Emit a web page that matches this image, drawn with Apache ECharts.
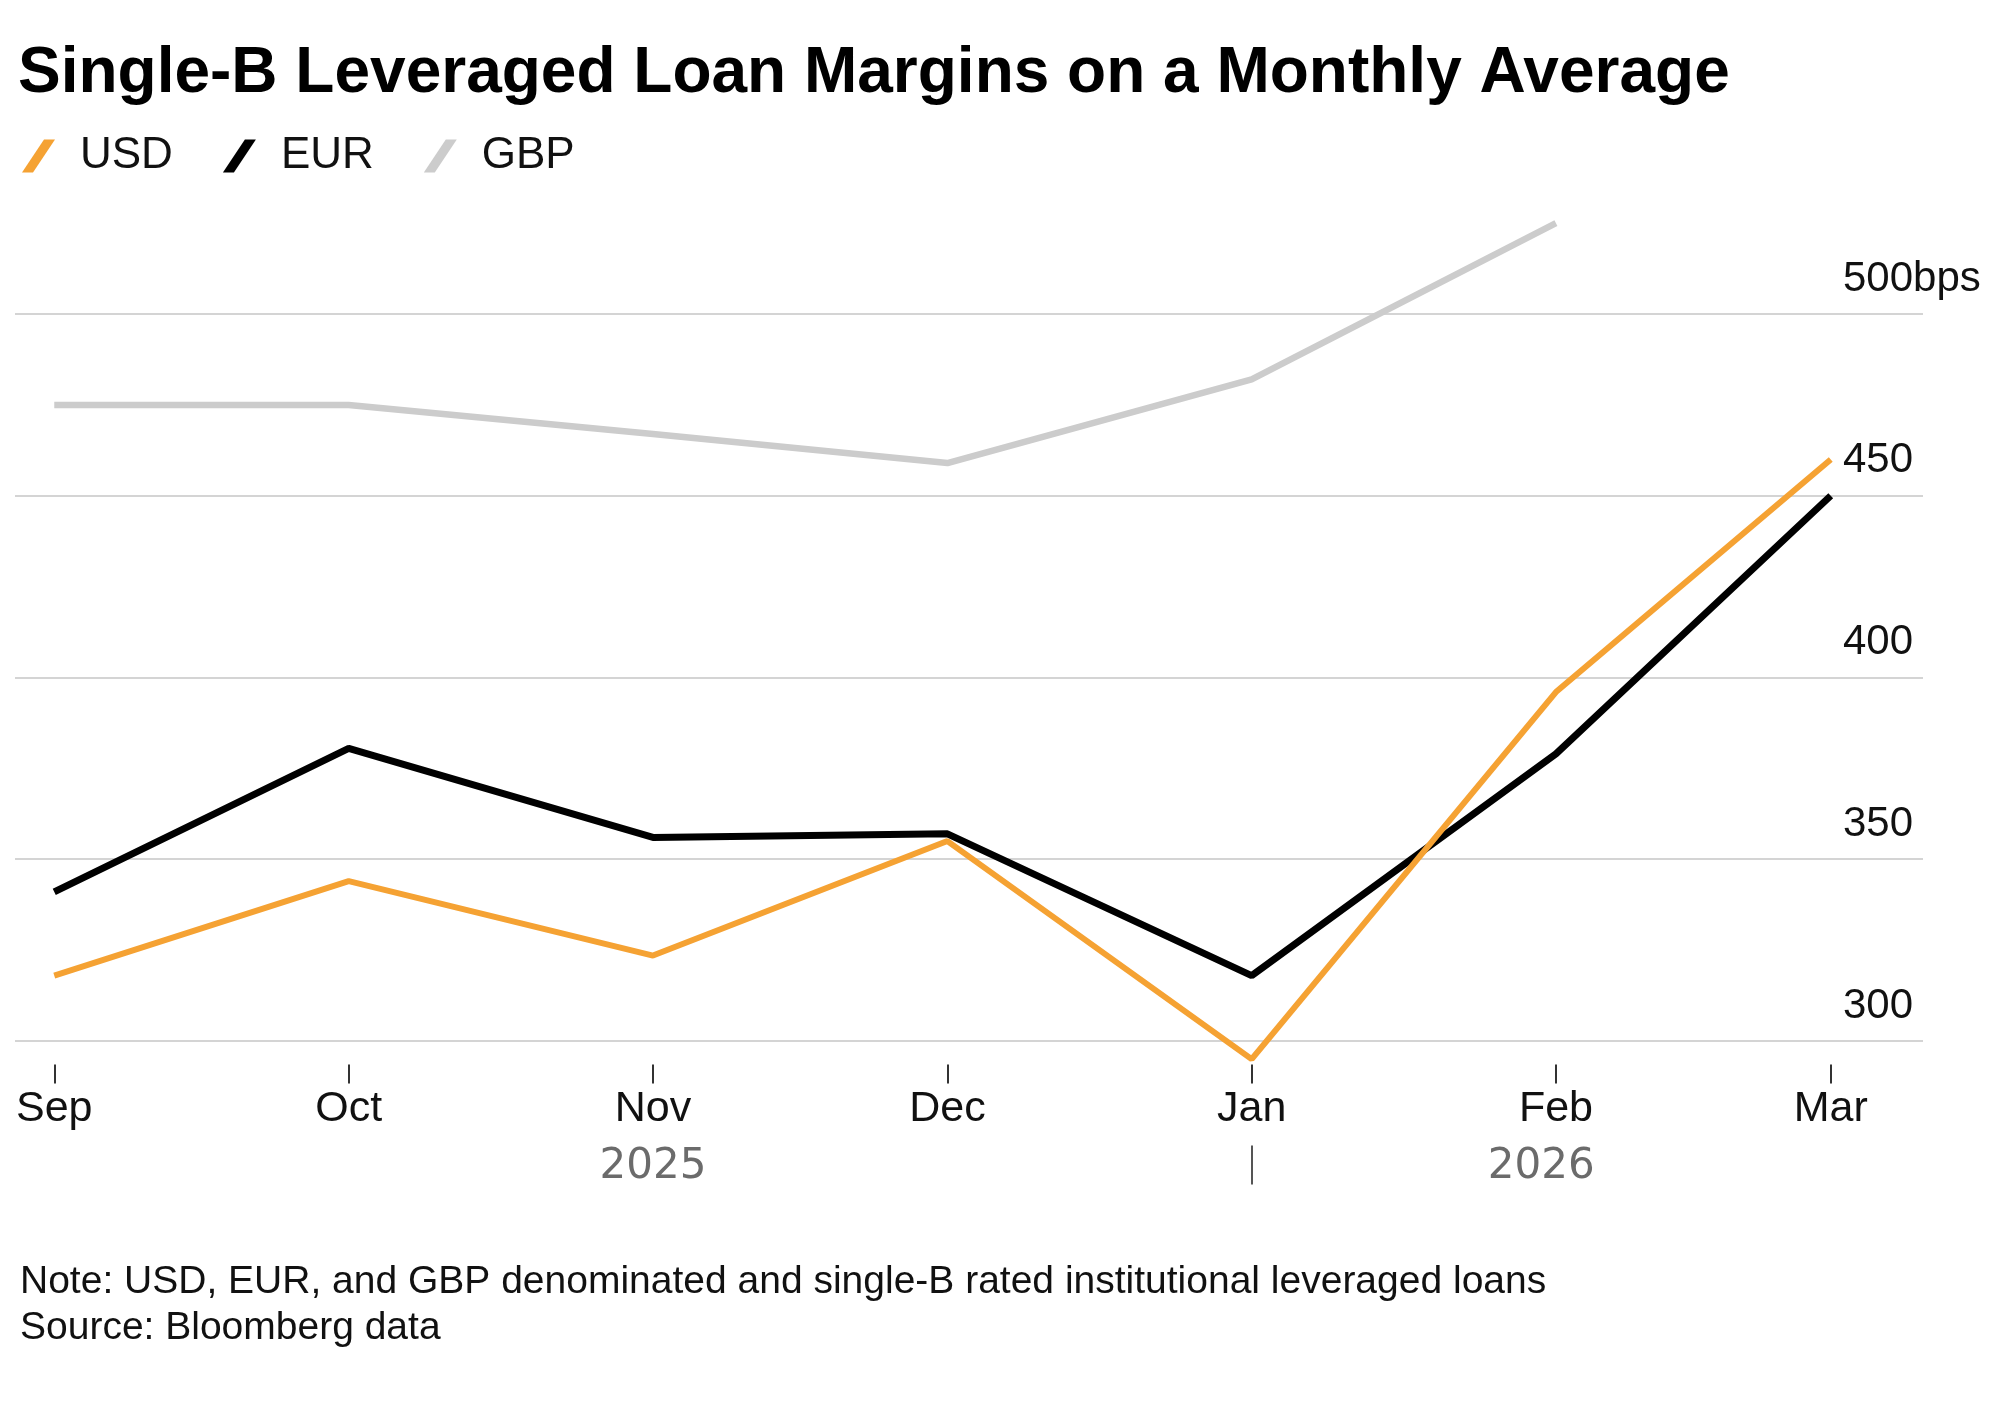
<!DOCTYPE html>
<html>
<head>
<meta charset="utf-8">
<script src="https://cdn.jsdelivr.net/npm/echarts@6/dist/echarts.min.js"></script>
<style>
html,body{margin:0;padding:0;background:#fff;}
#chart{width:2000px;height:1403px;}
</style>
</head>
<body>
<div id="chart"></div>
<script>
// ---- data ----
const months = ['2025-09-01','2025-10-01','2025-11-01','2025-12-01','2026-01-01','2026-02-01','2026-03-01'];
const usd = [318, 344, 323.5, 355, 295, 396, 460];
const eur = [341, 380.5, 356, 357, 318, 379, 450];
const gbp = [475, 475, 467, 459, 482, 525, null];
const monthNames = ['Jan','Feb','Mar','Apr','May','Jun','Jul','Aug','Sep','Oct','Nov','Dec'];
const yTicks = [300, 350, 400, 450, 500];
const yUnit = 'bps';
const titleText = 'Single-B Leveraged Loan Margins on a Monthly Average';
const noteText = 'Note: USD, EUR, and GBP denominated and single-B rated institutional leveraged loans\nSource: Bloomberg data';

// ---- helpers ----
const DAY = 86400000;
function toTs(s){ const p = s.split('-').map(Number); return new Date(p[0], p[1]-1, p[2]).getTime(); }
const ts = months.map(toTs);
const first = ts[0], last = ts[ts.length-1];
function pairs(vals){ return ts.map((t,i)=>[t, vals[i]]).filter(d=>d[1]!==null); }

// year labels centred over each year's span, separators at year boundaries
const years = [];
for (let y = new Date(first).getFullYear(); y <= new Date(last).getFullYear(); y++) years.push(y);
const yearMids = years.map(y => {
  const s = Math.max(first, new Date(y,0,1).getTime());
  const e = Math.min(last, new Date(y+1,0,1).getTime());
  return (s+e)/2;
});
const yearBounds = years.slice(1).map(y => new Date(y,0,1).getTime());
const xMin = first - 4*DAY, xMax = last + 9.4*DAY;

const FONT = 'Liberation Sans, Arial, sans-serif';
const chart = echarts.init(document.getElementById('chart'));
chart.setOption({
  backgroundColor: '#ffffff',
  animation: false,
  title: [
    { text: titleText, left: 13, top: 37,
      textStyle: { fontFamily: FONT, fontWeight: 'bold', fontSize: 64, color: '#000' } },
    { text: noteText, left: 15, top: 1254,
      textStyle: { fontFamily: FONT, fontWeight: 'normal', fontSize: 39, lineHeight: 46, color: '#111' } }
  ],
  legend: {
    data: ['USD','EUR','GBP'],
    left: 17, top: 129,
    itemWidth: 33, itemHeight: 33, itemGap: 50,
    icon: 'path://M0,33 L22,0 L33,0 L11,33 Z',
    textStyle: { fontFamily: FONT, fontSize: 44, color: '#111', padding: [0,0,0,20] }
  },
  grid: { left: 15, right: 77, top: 205, bottom: 338.4, outerBoundsMode: 'none', containLabel: false },
  xAxis: [
    { type: 'value', min: xMin, max: xMax, scale: true,
      axisLine: { show: false },
      axisTick: { show: true, customValues: ts, length: 19, lineStyle: { color: '#333', width: 2 } },
      axisLabel: { customValues: ts, margin: 23, fontFamily: FONT, fontSize: 43, color: '#111',
        formatter: v => monthNames[new Date(v).getMonth()] },
      splitLine: { show: false } },
    { type: 'value', min: xMin, max: xMax, scale: true, position: 'bottom', offset: 81,
      axisLine: { show: false },
      axisTick: { show: true, customValues: yearBounds, length: 39, lineStyle: { color: '#555', width: 2 } },
      axisLabel: { customValues: yearMids, margin: 0, fontFamily: 'DejaVu Sans, sans-serif', fontSize: 42, color: '#6b6b6b',
        formatter: v => String(new Date(v).getFullYear()) },
      splitLine: { show: false } }
  ],
  yAxis: {
    type: 'value', position: 'right', min: 293.5, max: 530,
    axisLine: { show: false },
    axisTick: { show: false, customValues: yTicks },
    axisLabel: { customValues: yTicks, inside: false, margin: -80, align: 'left', verticalAlign: 'bottom',
      padding: [0,0,14,0], fontFamily: FONT, fontSize: 42, color: '#111',
      formatter: v => v === yTicks[yTicks.length-1] ? v + yUnit : String(v) },
    splitLine: { show: true, lineStyle: { color: '#d4d4d4', width: 2 } }
  },
  series: [
    { name: 'GBP', type: 'line', data: pairs(gbp), showSymbol: false, clip: false,
      color: '#cccccc', lineStyle: { color: '#cccccc', width: 6.5 } },
    { name: 'EUR', type: 'line', data: pairs(eur), showSymbol: false, clip: false,
      color: '#000000', lineStyle: { color: '#000000', width: 7 } },
    { name: 'USD', type: 'line', data: pairs(usd), showSymbol: false, clip: false,
      color: '#f5a233', lineStyle: { color: '#f5a233', width: 6 } }
  ]
});
</script>
</body>
</html>
